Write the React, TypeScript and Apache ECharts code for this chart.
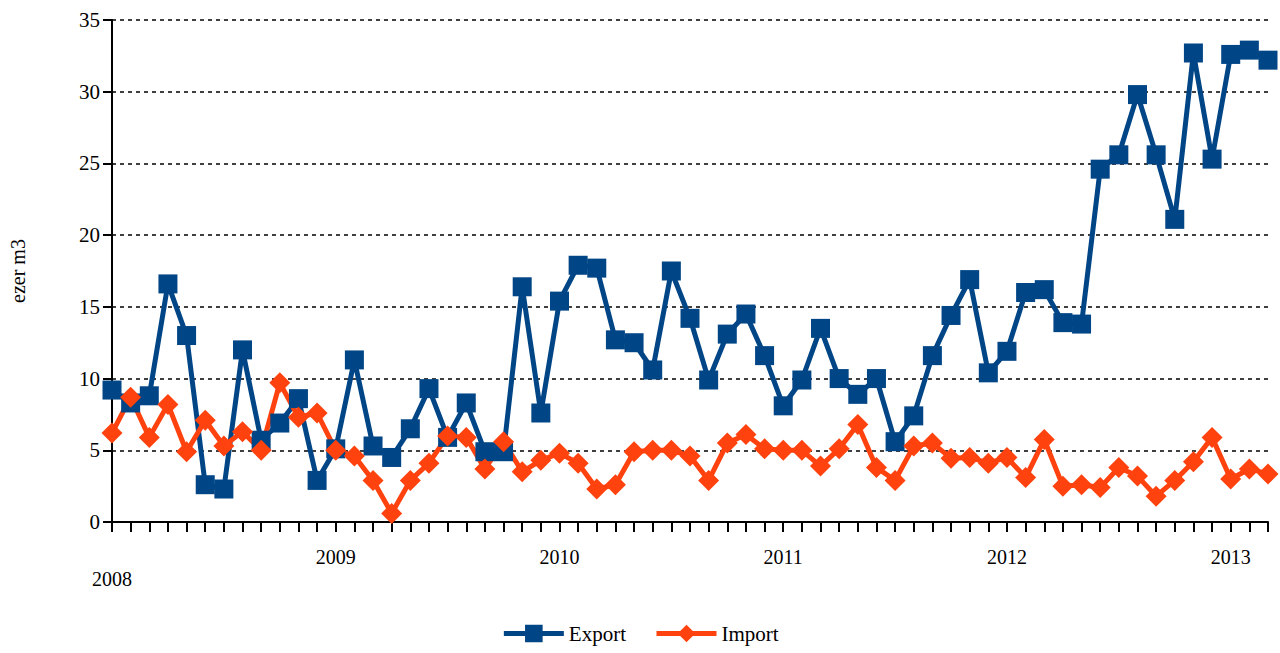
import React, { useEffect, useRef } from "react";
import * as echarts from "echarts";

const years = [2008, 2009, 2010, 2011, 2012, 2013];
const monthCount = 63;
const categories: string[] = [];
for (let i = 0; i < monthCount; i++) {
  const y = 2008 + Math.floor(i / 12);
  const m = (i % 12) + 1;
  categories.push(`${y}-${m < 10 ? "0" + m : m}`);
}

const exportValues = [
  9.2, 8.3, 8.8, 16.6, 13.0, 2.6, 2.3, 12.0, 5.7, 6.9, 8.6, 2.9,
  5.1, 11.3, 5.3, 4.5, 6.5, 9.3, 5.9, 8.3, 4.9, 4.9, 16.4, 7.6,
  15.4, 17.9, 17.7, 12.7, 12.5, 10.6, 17.5, 14.2, 9.9, 13.1, 14.5, 11.6,
  8.1, 9.9, 13.5, 10.0, 8.9, 10.0, 5.6, 7.4, 11.6, 14.4, 16.9, 10.4,
  11.9, 16.0, 16.2, 13.9, 13.8, 24.6, 25.6, 29.8, 25.6, 21.1, 32.7, 25.3,
  32.6, 32.9, 32.2,
];

const importValues = [
  6.2, 8.7, 5.9, 8.2, 4.9, 7.1, 5.3, 6.3, 5.0, 9.7, 7.3, 7.6,
  5.0, 4.6, 2.9, 0.6, 2.9, 4.1, 6.0, 5.9, 3.7, 5.6, 3.5, 4.3,
  4.8, 4.1, 2.3, 2.6, 4.9, 5.0, 5.0, 4.6, 2.9, 5.5, 6.1, 5.1,
  5.0, 5.0, 3.9, 5.1, 6.8, 3.8, 2.9, 5.3, 5.5, 4.45, 4.5, 4.1,
  4.5, 3.1, 5.75, 2.5, 2.6, 2.4, 3.8, 3.2, 1.8, 2.9, 4.2, 5.9,
  3.0, 3.7, 3.35,
];

const FONT = "Liberation Serif";

export default function App() {
  const ref = useRef<HTMLDivElement>(null);
  useEffect(() => {
    document.body.style.margin = "0";
    const chart = echarts.init(ref.current!, undefined, { renderer: "svg" });
    const txt = { fontFamily: FONT, fontSize: 20, color: "#000", fontWeight: "normal" as const };
    chart.setOption({
      animation: false,
      backgroundColor: "#ffffff",
      textStyle: { fontFamily: FONT },
      grid: { left: 111, right: 12, top: 20, bottom: 131 },
      legend: {
        bottom: 4,
        left: "center",
        itemWidth: 60,
        itemHeight: 22,
        itemGap: 28,
        textStyle: { ...txt, fontSize: 21 },
        lineStyle: { width: 5 },
        data: ["Export", "Import"],
      },
      xAxis: {
        type: "category",
        data: categories,
        boundaryGap: false,
        axisLine: { lineStyle: { color: "#000", width: 2 } },
        axisTick: {
          show: true,
          interval: 0,
          length: 10,
          lineStyle: { color: "#000", width: 2 },
        },
        axisLabel: {
          ...txt,
          interval: 0,
          margin: 24,
          lineHeight: 22,
          formatter: (_v: string, idx: number) => {
            if (idx % 12 !== 0) return "";
            const y = years[idx / 12];
            return idx === 0 ? `\n${y}` : `${y}`;
          },
        },
        splitLine: { show: false },
      },
      yAxis: {
        type: "value",
        min: 0,
        max: 35,
        interval: 5,
        name: "ezer m3",
        nameLocation: "middle",
        nameGap: 84,
        nameTextStyle: { ...txt },
        axisLine: { show: true, lineStyle: { color: "#000", width: 2 } },
        axisTick: { show: true, length: 9, lineStyle: { color: "#000", width: 2 } },
        axisLabel: { ...txt, fontSize: 21, margin: 12 },
        splitLine: {
          show: true,
          lineStyle: { color: "#000", width: 1.5, type: [4, 4] },
        },
      },
      series: [
        {
          name: "Export",
          type: "line",
          data: exportValues,
          symbol: "rect",
          symbolSize: 19,
          lineStyle: { color: "#004586", width: 5 },
          itemStyle: { color: "#004586" },
        },
        {
          name: "Import",
          type: "line",
          data: importValues,
          symbol: "diamond",
          symbolSize: 21,
          lineStyle: { color: "#ff420e", width: 5 },
          itemStyle: { color: "#ff420e" },
        },
      ],
    });
    return () => chart.dispose();
  }, []);
  return (
    <>
      <style>{`.chart-root svg text, .chart-root svg tspan { font-family: "Liberation Serif", "Times New Roman", serif !important; }`}</style>
      <div className="chart-root" ref={ref} style={{ width: 1280, height: 653 }} />
    </>
  );
}
